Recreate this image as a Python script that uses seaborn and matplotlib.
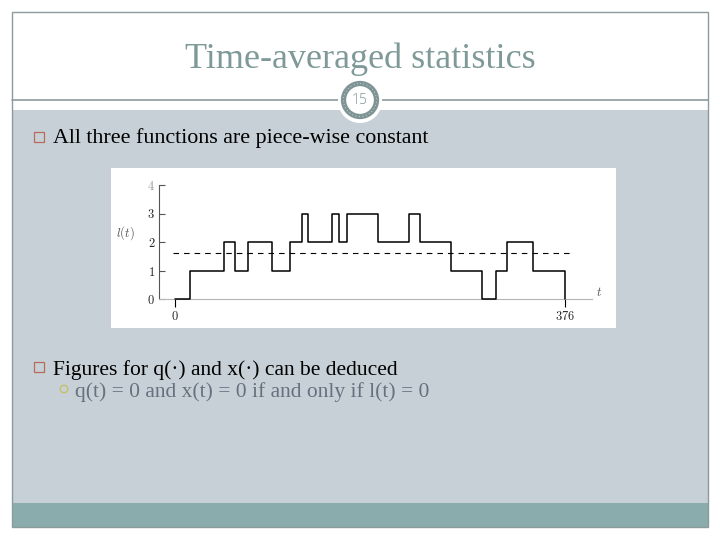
import numpy as np
import pandas as pd
import matplotlib
matplotlib.use("Agg")
import matplotlib.pyplot as plt
import seaborn as sns
from matplotlib.patches import Rectangle, Circle

# ── Data: number in system l(t), piece-wise constant ──────────────────────────
change_times = [0, 15, 47, 58, 71, 94, 111, 123, 128, 152, 158, 166,
                196, 226, 236, 266, 296, 310, 320, 345, 376]
levels = [0, 1, 2, 1, 2, 1, 2, 3, 2, 3, 2, 3,
          2, 3, 2, 1, 0, 1, 2, 1, 0]
t_end = 376
y_ticks = [0, 1, 2, 3, 4]
x_ticks = [0, t_end]

title = "Time-averaged statistics"
slide_no = "15"
bullet_1 = "All three functions are piece-wise constant"
bullet_2 = "Figures for q(\u00b7) and x(\u00b7) can be deduced"
sub_bullet = "q(t) = 0 and x(t) = 0 if and only if l(t) = 0"

df = pd.DataFrame({"t": change_times, "l": levels})
dur = np.diff(change_times)
l_avg = float(np.sum(np.array(levels[:-1]) * dur) / t_end)  # time average

sns.set_style("ticks")
plt.rcParams["font.family"] = ["Liberation Serif", "DejaVu Serif"]
plt.rcParams["mathtext.fontset"] = "cm"

fig = plt.figure(figsize=(7.2, 5.4), dpi=100)

# ── Slide background (pixel coordinates) ─────────────────────────────────────
bg = fig.add_axes([0, 0, 1, 1])
bg.set_xlim(0, 720); bg.set_ylim(540, 0); bg.axis("off")

frame_c = "#8c9c9c"
bg.add_patch(Rectangle((12, 110), 696, 393, fc="#c6d0d6", ec="none"))
bg.add_patch(Rectangle((12, 503), 696, 24, fc="#8aacac", ec="none"))
bg.add_patch(Rectangle((12, 12), 696, 515, fc="none", ec=frame_c, lw=1))
bg.plot([12, 708], [100, 100], color=frame_c, lw=1.2)

# slide number badge
bg.add_patch(Circle((360, 101), 22, fc="white", ec="none", zorder=3))
bg.add_patch(Circle((360, 100), 16.5, fc="none", ec="#7f9595", lw=3.8, zorder=4))
bg.add_patch(Circle((360, 100), 16.5, fc="none", ec="white", lw=0.5,
                    ls=(0, (1, 4)), zorder=5))
bg.text(360, 101, slide_no, ha="center", va="center", fontsize=10,
        color="#7f9595", family="Open Sans", fontweight="light", zorder=6)

bg.text(360, 68, title, ha="center", va="baseline", fontsize=26,
        color="#7f9999")

# bullets
bullet_c = "#b86a5a"
bg.add_patch(Rectangle((34, 132), 10, 10, fc="none", ec=bullet_c, lw=0.9))
bg.text(53, 143, bullet_1, va="baseline", fontsize=15.8, color="black")
bg.add_patch(Rectangle((34, 362), 10, 10, fc="none", ec=bullet_c, lw=0.9))
bg.text(53, 375, bullet_2, va="baseline", fontsize=15.5, color="black")
bg.add_patch(Circle((64, 389), 3.8, fc="none", ec="#c8c060", lw=0.9))
bg.text(75, 397, sub_bullet, va="baseline", fontsize=15.5, color="#687080")

# chart white panel
bg.add_patch(Rectangle((111, 168), 505, 160, fc="white", ec="none"))

# ── Chart ─────────────────────────────────────────────────────────────────────
ax = fig.add_axes([159.3 / 720, (540 - 299) / 540,
                   (591.7 - 159.3) / 720, (299 - 185) / 540])
ax.patch.set_alpha(0)
sns.lineplot(data=df, x="t", y="l", drawstyle="steps-post", color="black",
             lw=1.1, ax=ax, legend=False, clip_on=False, zorder=3)
ax.hlines(l_avg, change_times[0] - 2, t_end + 5, colors="black", lw=0.8,
          linestyles=(0, (5, 4.5)))

ax.set_xlim(-15, 402)
ax.set_ylim(0, 4)
sns.despine(ax=ax)
ax.spines["left"].set_bounds(0, 4)
ax.spines["left"].set_color("#555555")
ax.spines["left"].set_linewidth(0.8)
ax.spines["bottom"].set_color("#b5b5b5")
ax.spines["bottom"].set_linewidth(0.8)

ax.set_yticks(y_ticks)
ax.set_yticklabels([rf"$\mathbf{{{v}}}$" for v in y_ticks], fontsize=9)
ax.get_yticklabels()[-1].set_color("#999999")
ax.tick_params(axis="y", direction="in", length=4, width=0.8,
               color="#555555", pad=3)
ax.set_xticks(x_ticks)
ax.set_xticklabels([rf"$\mathbf{{{v}}}$" for v in x_ticks], fontsize=9)
ax.tick_params(axis="x", direction="out", length=6, width=0.8,
               color="black", pad=2)

ax.set_xlabel("")
ax.set_ylabel("$l(t)$", rotation=0, fontsize=9, color="#555555")
ax.yaxis.set_label_coords(-0.079, 0.5)
ax.text(1.01, 0.0, "$t$", transform=ax.transAxes, fontsize=9,
        color="#555555", va="bottom", ha="left")

fig.savefig("out.png", dpi=100)
